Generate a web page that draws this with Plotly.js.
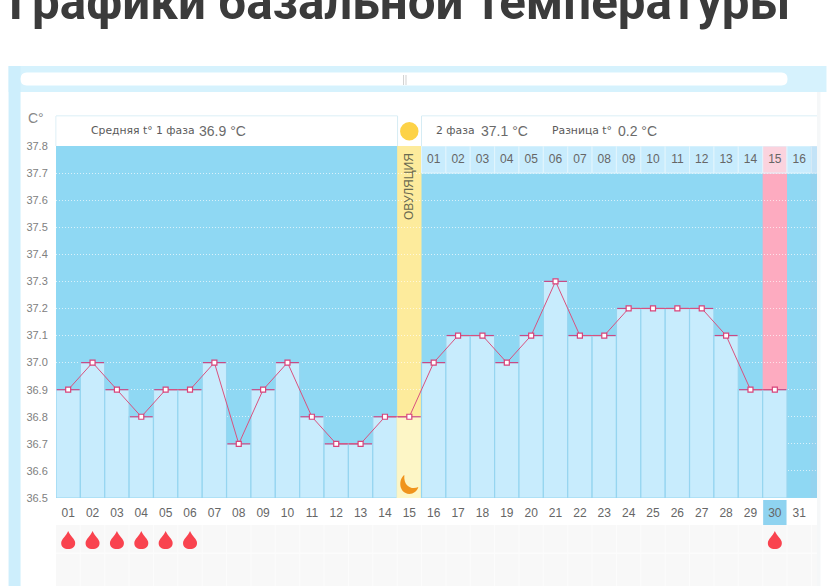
<!DOCTYPE html>
<html><head><meta charset="utf-8">
<script src="https://cdn.plot.ly/plotly-3.0.1.min.js"></script>
<style>html,body{margin:0;padding:0;background:#fff;overflow:hidden}</style>
</head><body><div id="chart" style="width:827px;height:586px"></div>
<script>
const days = [1,2,3,4,5,6,7,8,9,10,11,12,13,14,15,16,17,18,19,20,21,22,23,24,25,26,27,28,29,30];
const temps = [36.9,37.0,36.9,36.8,36.9,36.9,37.0,36.7,36.9,37.0,36.8,36.7,36.7,36.8,36.8,37.0,37.1,37.1,37.0,37.1,37.3,37.1,37.1,37.2,37.2,37.2,37.2,37.1,36.9,36.9];
const tickDays = [1,2,3,4,5,6,7,8,9,10,11,12,13,14,15,16,17,18,19,20,21,22,23,24,25,26,27,28,29,30,31];
const tickLabels = ["01","02","03","04","05","06","07","08","09","10","11","12","13","14","15","16","17","18","19","20","21","22","23","24","25","26","27","28","29","30","31"];
const phaseDays = [16,17,18,19,20,21,22,23,24,25,26,27,28,29,30,31,32];
const phaseLabels = ["01","02","03","04","05","06","07","08","09","10","11","12","13","14","15","16",""];
const dropDays = [1,2,3,4,5,6,30];
const ovulationDay = 15, lastDay = 30;
const yMin = 36.5, yMax = 37.8, headerBase = 37.7;

const W=827,H=586,mL=55.5,mR=9.5,mT=146,mB=88;
const pw=W-mL-mR, ph=H-mT-mB;
const fx=X=>(X-mL)/pw, fy=Y=>(mT+ph-Y)/ph;
const rectPx=(x0,y0,x1,y1,color,extra)=>Object.assign({type:'rect',xref:'paper',yref:'paper',x0:fx(x0),x1:fx(x1),y0:fy(y1),y1:fy(y0),fillcolor:color,line:{width:0},layer:'below'},extra||{});
const FONT='"Liberation Sans", sans-serif';
const SMALL='"DejaVu Sans", sans-serif';
const note=(X,Y,text,size,color,anchor,extra)=>Object.assign({xref:'paper',yref:'paper',x:fx(X),y:fy(Y),text,showarrow:false,xanchor:anchor||'left',yanchor:'middle',font:{family:FONT,size,color},borderpad:0},extra||{});
const small=(X,Y,text)=>note(X,Y,text,10.8,'#5a5a5a','left',{font:{family:SMALL,size:10.8,color:'#5a5a5a'}});

const barFill=days.map(d=>d===ovulationDay?'#fdf6c6':'#c8ecfd');
const barEdge=days.map(d=>d===ovulationDay?'#fdf6c6':'#96d5f0');

const traces=[
 {type:'bar',x:days,y:temps.map(t=>t-yMin),base:yMin,width:1,hoverinfo:'skip',
  marker:{color:barFill,line:{color:barEdge,width:1.2}}},
 {type:'bar',x:phaseDays,y:phaseDays.map(()=>yMax-headerBase),base:headerBase,width:1,hoverinfo:'skip',
  marker:{color:phaseDays.map(d=>d===lastDay?'#fbd3de':'#c8ecfd'),line:{color:'#e2f5fd',width:1}}},
 {type:'scatter',mode:'text',x:phaseDays,y:phaseDays.map(()=>37.75),text:phaseLabels,hoverinfo:'skip',
  textfont:{family:FONT,size:12,color:'#666'},textposition:'middle center'},
 {type:'scatter',mode:'lines+markers',x:days,y:temps,hoverinfo:'skip',
  line:{color:'#d9527f',width:1},
  marker:{symbol:'square',size:5,color:'#fff',line:{color:'#d8437a',width:1.2}},
  error_x:{type:'constant',value:0.47,color:'#c94a85',thickness:1.2,width:0}}
];

const dropPath='M 0 9 C 2 4 7 1 7 -3 C 7 -7 4 -9 0 -9 C -4 -9 -7 -7 -7 -3 C -7 1 -2 4 0 9 Z';
const moonPath='M -5 10 C -11 6 -11 -8 0 -9 C 4 -9 8 -6 9 -2 C 3 -5 -6 -2 -5 10 Z';

const shapes=[
 // page panel
 rectPx(8,66,827,92,'#d6f2fd'),
 rectPx(8,66,20,586,'#cdeefc'),
 {type:'path',xref:'paper',yref:'paper',layer:'below',fillcolor:'#ffffff',line:{width:0},
  path:`M ${fx(26)} ${fy(72.5)} L ${fx(782)} ${fy(72.5)} Q ${fx(788)} ${fy(72.5)} ${fx(788)} ${fy(79)} Q ${fx(788)} ${fy(85.5)} ${fx(782)} ${fy(85.5)} L ${fx(26)} ${fy(85.5)} Q ${fx(20)} ${fy(85.5)} ${fx(20)} ${fy(79)} Q ${fx(20)} ${fy(72.5)} ${fx(26)} ${fy(72.5)} Z`},
 rectPx(403.3,75,404,85,'#bcbcbc'),
 rectPx(405.6,75,406.3,85,'#bcbcbc'),
 // header strip outlines
 rectPx(55.5,115.5,397.5,116.3,'#cfe9f3'),
 rectPx(421.5,115.5,817.5,116.3,'#cfe9f3'),
 rectPx(397,116,398,146,'#d6ecf4'),
 rectPx(55,116,55.8,146,'#d6ecf4'),
 rectPx(421,116,422,146,'#d6ecf4'),
 // bottom grid
 rectPx(55.5,525,817.5,586,'#f8f8f8'),
 rectPx(55.5,552.5,817.5,554,'#fcfcfc'),
 // right shadow
 rectPx(817.5,92,821,586,'#f5f7f8'),
 rectPx(811,146,817.5,498,'rgba(170,190,220,0.18)',{layer:'above'}),
 // ovulation and last-day columns
 {type:'rect',xref:'x',yref:'y',x0:ovulationDay-0.5,x1:ovulationDay+0.5,y0:yMin,y1:yMax,fillcolor:'#fdeb9c',line:{width:0},layer:'below'},
 {type:'rect',xref:'x',yref:'y',x0:lastDay-0.5,x1:lastDay+0.5,y0:yMin,y1:yMax,fillcolor:'#fdabc0',line:{width:0},layer:'below'},
 // day-30 tick highlight
 {type:'rect',xref:'x',yref:'paper',x0:lastDay-0.48,x1:lastDay+0.48,y0:fy(525),y1:fy(500),fillcolor:'#8fd3f0',line:{width:0},layer:'below'},
 // sun
 {type:'circle',xref:'paper',yref:'paper',x0:fx(400),x1:fx(418.5),y0:fy(140.5),y1:fy(122),fillcolor:'#fdd247',line:{width:0},layer:'above'},
 // moon
 {type:'path',xref:'x',yref:'y',xsizemode:'pixel',ysizemode:'pixel',xanchor:ovulationDay,yanchor:yMin+0.048,path:moonPath,fillcolor:'#f0941c',line:{width:0},layer:'above'}
];
dropDays.forEach(d=>{
 shapes.push({type:'path',xref:'x',yref:'paper',xsizemode:'pixel',ysizemode:'pixel',xanchor:d,yanchor:fy(540),path:dropPath,fillcolor:'#f9434f',line:{width:0},layer:'above'});
});
for(let d=1;d<=31;d++){
 shapes.push(rectPx(mL+d*24.4-0.5,525,mL+d*24.4+0.5,586,'#fcfcfc'));
}

const annotations=[
 {xref:'paper',yref:'paper',x:fx(7),y:fy(32),yanchor:'bottom',xanchor:'left',showarrow:false,borderpad:0,
  text:'<b>Графики базальной температуры</b>',font:{family:'Roboto, sans-serif',size:49.3,color:'#3b3b3b'}},
 note(44.5,118,'C°',14,'#888','right'),
 small(90,131,'Средняя t° 1 фаза'),
 note(198,130.5,'36.9 °С',14,'#6a6a6a'),
 small(435,131,'2 фаза'),
 note(480,130.5,'37.1 °С',14,'#6a6a6a'),
 small(551,131,'Разница t°'),
 note(617,130.5,'0.2 °С',14,'#6a6a6a'),
 note(409,187,'ОВУЛЯЦИЯ',12,'#6a6a50','center',{textangle:-90,xanchor:'center'})
];

const layout={
 width:W,height:H,margin:{l:mL,r:mR,t:mT,b:mB,pad:0},
 paper_bgcolor:'#ffffff',plot_bgcolor:'#8fd8f3',showlegend:false,barmode:'overlay',
 xaxis:{range:[0.5,31.73],tickmode:'array',tickvals:tickDays,ticktext:tickLabels,showgrid:false,zeroline:false,showline:false,
  ticks:'outside',ticklen:4,tickcolor:'rgba(0,0,0,0)',tickfont:{family:FONT,size:12,color:'#666'}},
 yaxis:{range:[yMin,yMax],dtick:0.1,tick0:36.5,tickformat:'.1f',showgrid:true,griddash:'1px,2px',gridcolor:'rgba(255,255,255,0.65)',gridwidth:1,
  zeroline:false,showline:false,ticks:'outside',ticklen:5,tickcolor:'rgba(0,0,0,0)',tickfont:{family:FONT,size:11,color:'#808080'}},
 shapes,annotations
};
Plotly.newPlot('chart',traces,layout,{displayModeBar:false,staticPlot:true});
</script></body></html>
